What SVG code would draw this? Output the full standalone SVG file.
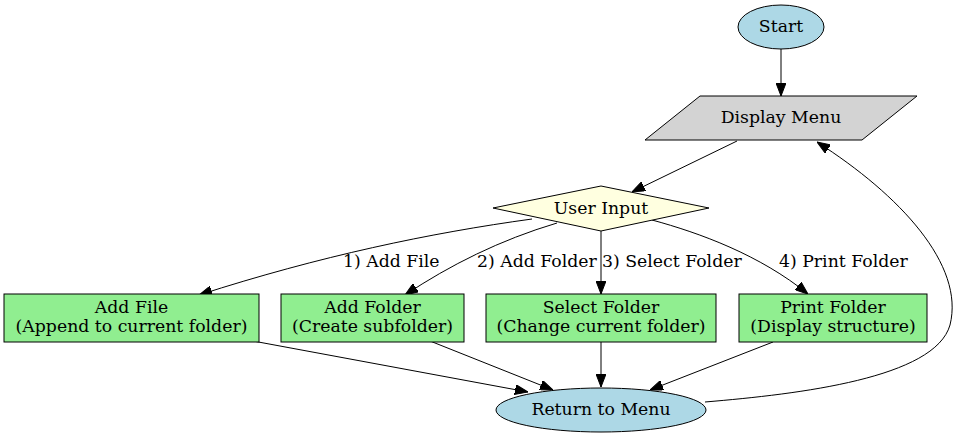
<svg xmlns="http://www.w3.org/2000/svg" width="960" height="437" viewBox="0 0 960 437">
<defs>
<style>
text{font-family:"DejaVu Serif","Liberation Serif",serif;font-size:17.3px;fill:#000;text-anchor:middle}
.lbl{text-anchor:start}
.shape{stroke:#000;stroke-width:1}
.e{fill:none;stroke:#000;stroke-width:1;marker-end:url(#ah)}
</style>
<marker id="ah" viewBox="0 0 13 10" refX="13" refY="5" markerWidth="13" markerHeight="10" markerUnits="userSpaceOnUse" orient="auto">
<path d="M0,0 L13,5 L0,10 z" fill="#000" stroke="#000" stroke-width="1"/>
</marker>
</defs>
<rect width="960" height="437" fill="#fff"/>
<g id="connectors">
<path class="e" d="M781,49 L781,96"/>
<path class="e" d="M737,141 L632,192"/>
<path class="e" d="M532,219 C430,233 320,256 199,295"/>
<path class="e" d="M557,223 C500,240 450,265 405,295"/>
<path class="e" d="M601,231 L601,294"/>
<path class="e" d="M652,220 C700,233 760,255 808,294"/>
<path class="e" d="M253,341 L528,392"/>
<path class="e" d="M430,341 L553,390"/>
<path class="e" d="M601,342 L601,387"/>
<path class="e" d="M773,342 L650,390"/>
<path class="e" d="M705,402 C800,394 935,378 950,325 C965,265 900,195 817,142"/>
<text class="lbl" x="343" y="267">1) Add File</text>
<text class="lbl" x="477" y="267">2) Add Folder</text>
<text class="lbl" x="602" y="267">3) Select Folder</text>
<text class="lbl" x="779" y="267">4) Print Folder</text>
</g>
<g id="start">
<ellipse class="shape" cx="781" cy="27" rx="43" ry="22" fill="#add8e6"/>
<text x="781" y="32">Start</text>
</g>
<g id="display_menu">
<polygon class="shape" points="700,96 917,96 862,140 645,140" fill="#d3d3d3"/>
<text x="781" y="123">Display Menu</text>
</g>
<g id="user_input">
<polygon class="shape" points="601,186 709,208 601,231 493,208" fill="#ffffe0"/>
<text x="601" y="214">User Input</text>
</g>
<g id="add_file">
<rect class="shape" x="4" y="294" width="255" height="48" fill="#90ee90"/>
<text x="131.5" y="313">Add File</text>
<text x="131.5" y="332">(Append to current folder)</text>
</g>
<g id="add_folder">
<rect class="shape" x="281" y="294" width="183" height="48" fill="#90ee90"/>
<text x="372.5" y="313">Add Folder</text>
<text x="372.5" y="332">(Create subfolder)</text>
</g>
<g id="select_folder">
<rect class="shape" x="486" y="294" width="230" height="48" fill="#90ee90"/>
<text x="601" y="313">Select Folder</text>
<text x="601" y="332">(Change current folder)</text>
</g>
<g id="print_folder">
<rect class="shape" x="739" y="294" width="188" height="48" fill="#90ee90"/>
<text x="833" y="313">Print Folder</text>
<text x="833" y="332">(Display structure)</text>
</g>
<g id="return_menu">
<ellipse class="shape" cx="601" cy="410" rx="105" ry="22" fill="#add8e6"/>
<text x="601" y="415">Return to Menu</text>
</g>
</svg>
